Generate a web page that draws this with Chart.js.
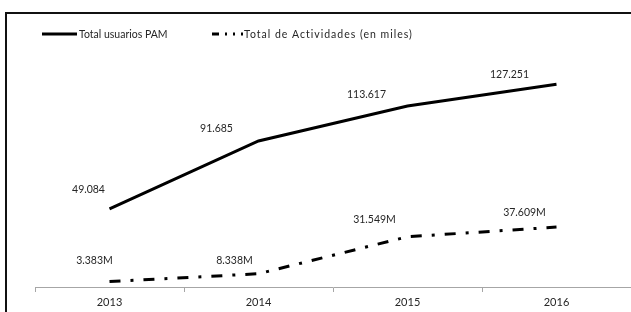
<!DOCTYPE html>
<html>
<head>
<meta charset="utf-8">
<script src="https://cdn.jsdelivr.net/npm/chart.js@4/dist/chart.umd.min.js"></script>
<style>
  html, body { margin: 0; padding: 0; background: #ffffff; }
  #wrap { position: relative; width: 631px; height: 312px; overflow: hidden; }
  canvas { display: block; }
</style>
</head>
<body>
<div id="wrap"><canvas id="c" width="631" height="312"></canvas></div>
<script>
// ---- data ----
const years = ['2013', '2014', '2015', '2016'];
const usuariosPAM = [49.084, 91.685, 113.617, 127.251];
const actividades = [3.383, 8.338, 31.549, 37.609];
const seriesNames = ['Total usuarios PAM', 'Total de Actividades (en miles)'];

// ---- styling helpers (not data) ----
const FONT = 'Lato, "Liberation Sans", Arial, sans-serif';
const TEXT = '#262626';
const labelOffsets = [
  [[-21, -19], [-42, -12], [-41, -11], [-47, -10]],
  [[-15, -21], [-24, -13], [-33, -17], [-32, -14]]
];
const labelSuffix = ['', 'M'];

const framePlugin = {
  id: 'frame',
  beforeDraw(chart) {
    const ctx = chart.ctx;
    ctx.save();
    ctx.fillStyle = '#ffffff';
    ctx.fillRect(0, 0, chart.width, chart.height);
    ctx.fillStyle = '#111111';
    ctx.fillRect(5, 12, 2, chart.height - 12);
    ctx.fillRect(5, 12, chart.width - 5, 2);
    ctx.restore();
  }
};

const legendPlugin = {
  id: 'customLegend',
  afterDraw(chart) {
    const ctx = chart.ctx;
    const items = [
      { x1: 42, x2: 77, tx: 79, dash: [], spacing: '0px' },
      { x1: 212, x2: 243, tx: 244, dash: [7, 6, 2, 6, 2, 6, 2, 40], spacing: '1px' }
    ];
    const y = 34;
    ctx.save();
    chart.data.datasets.forEach((ds, i) => {
      const it = items[i];
      ctx.beginPath();
      ctx.setLineDash(it.dash);
      ctx.lineWidth = 3;
      ctx.lineCap = 'butt';
      ctx.strokeStyle = ds.borderColor;
      ctx.moveTo(it.x1, y);
      ctx.lineTo(it.x2, y);
      ctx.stroke();
      ctx.setLineDash([]);
      ctx.fillStyle = TEXT;
      ctx.font = '10.5px ' + FONT;
      ctx.textAlign = 'left';
      ctx.textBaseline = 'middle';
      if ('letterSpacing' in ctx) ctx.letterSpacing = it.spacing;
      ctx.fillText(ds.label, it.tx, y + 1);
      if ('letterSpacing' in ctx) ctx.letterSpacing = '0px';
    });
    ctx.restore();
  }
};

const dataLabelPlugin = {
  id: 'dataLabels',
  afterDatasetsDraw(chart) {
    const ctx = chart.ctx;
    ctx.save();
    ctx.font = '10.5px ' + FONT;
    ctx.fillStyle = TEXT;
    ctx.textAlign = 'center';
    ctx.textBaseline = 'middle';
    chart.data.datasets.forEach((ds, di) => {
      const meta = chart.getDatasetMeta(di);
      meta.data.forEach((pt, i) => {
        const off = labelOffsets[di][i];
        const txt = ds.data[i].toFixed(3) + labelSuffix[di];
        ctx.fillText(txt, pt.x + off[0], pt.y + off[1]);
      });
    });
    ctx.restore();
  }
};

new Chart(document.getElementById('c'), {
  type: 'line',
  data: {
    labels: years,
    datasets: [
      {
        label: seriesNames[0],
        data: usuariosPAM,
        borderColor: '#000000',
        borderWidth: 3,
        pointRadius: 0,
        tension: 0,
        fill: false
      },
      {
        label: seriesNames[1],
        data: actividades,
        borderColor: '#000000',
        borderWidth: 3,
        borderDash: [11, 10, 3, 10],
        borderCapStyle: 'butt',
        pointRadius: 0,
        tension: 0,
        fill: false
      }
    ]
  },
  options: {
    responsive: false,
    animation: false,
    devicePixelRatio: 1,
    layout: { padding: { left: 35, right: -5, top: 64, bottom: 0 } },
    plugins: {
      legend: { display: false },
      tooltip: { enabled: false }
    },
    scales: {
      x: {
        type: 'category',
        offset: true,
        grid: {
          display: true,
          offset: true,
          drawOnChartArea: false,
          drawTicks: true,
          tickLength: 5,
          color: '#a6a6a6'
        },
        border: { display: true, color: '#a6a6a6', width: 1 },
        ticks: {
          color: TEXT,
          font: { family: FONT, size: 11 },
          padding: 4,
          maxRotation: 0
        },
        afterFit(scale) { scale.height = 25; }
      },
      y: {
        display: false,
        min: 0,
        max: 140
      }
    }
  },
  plugins: [framePlugin, legendPlugin, dataLabelPlugin]
});
</script>
</body>
</html>
